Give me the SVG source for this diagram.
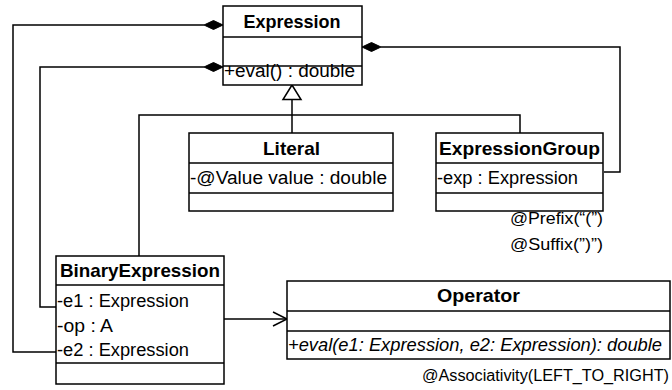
<svg xmlns="http://www.w3.org/2000/svg" width="672" height="390" viewBox="0 0 672 390">
<style>
.box{fill:#fff;stroke:#000;stroke-width:1.5}
.div{stroke:#000;stroke-width:1.5}
.ln{fill:none;stroke:#000;stroke-width:1.5}
.dia{fill:#000;stroke:#000;stroke-width:1}
text{font-family:"Liberation Sans",Arial,sans-serif;font-size:18px;fill:#000}
.t{font-weight:bold;text-anchor:middle;font-size:19px}
.r{text-anchor:end;font-size:17px}
.i{font-style:italic}
</style>
<rect width="672" height="390" fill="#fff"/>
<g id="connectors">
<polyline class="ln" points="204,25 13,25 13,352 56,352"/>
<polyline class="ln" points="204,67 40,67 40,307 56,307"/>
<polyline class="ln" points="381,47 620,47 620,172 604,172"/>
<polyline class="ln" points="292,99 292,133"/>
<polyline class="ln" points="139,256 139,115 520,115 520,133"/>
<polygon points="292,85 283,99.5 301,99.5" fill="#fff" stroke="#000" stroke-width="1.5"/>
<polygon class="dia" points="223,25 213.5,20.5 204,25 213.5,29.5"/>
<polygon class="dia" points="223,67 213.5,62.5 204,67 213.5,71.5"/>
<polygon class="dia" points="362,47 371.5,42.5 381,47 371.5,51.5"/>
<line class="ln" x1="224" y1="319" x2="287" y2="319"/>
<polyline class="ln" points="273,312 287,319 273,326"/>
</g>
<g id="Expression">
<rect class="box" x="223" y="6" width="139" height="79"/>
<line class="div" x1="223" y1="37" x2="362" y2="37"/>
<line class="div" x1="223" y1="66" x2="362" y2="66"/>
<text class="t" x="292" y="28" textLength="97" lengthAdjust="spacingAndGlyphs">Expression</text>
<text x="224" y="77" textLength="131" lengthAdjust="spacingAndGlyphs">+eval() : double</text>
</g>
<g id="Literal">
<rect class="box" x="189" y="133" width="204" height="78"/>
<line class="div" x1="189" y1="163" x2="393" y2="163"/>
<line class="div" x1="189" y1="193" x2="393" y2="193"/>
<text class="t" x="291.5" y="155" textLength="57" lengthAdjust="spacingAndGlyphs">Literal</text>
<text x="190" y="184" textLength="197" lengthAdjust="spacingAndGlyphs">-@Value value : double</text>
</g>
<g id="ExpressionGroup">
<rect class="box" x="436" y="133" width="167" height="78"/>
<line class="div" x1="436" y1="163" x2="603" y2="163"/>
<line class="div" x1="436" y1="193" x2="603" y2="193"/>
<text class="t" x="519.5" y="155" textLength="161" lengthAdjust="spacingAndGlyphs">ExpressionGroup</text>
<text x="437" y="184" textLength="141" lengthAdjust="spacingAndGlyphs">-exp : Expression</text>
<text class="r" x="603" y="224" textLength="93" lengthAdjust="spacingAndGlyphs">@Prefix(“(”)</text>
<text class="r" x="603" y="250" textLength="93" lengthAdjust="spacingAndGlyphs">@Suffix(”)”)</text>
</g>
<g id="BinaryExpression">
<rect class="box" x="56" y="256" width="168" height="128"/>
<line class="div" x1="56" y1="285" x2="224" y2="285"/>
<line class="div" x1="56" y1="363" x2="224" y2="363"/>
<text class="t" x="140" y="277" textLength="160" lengthAdjust="spacingAndGlyphs">BinaryExpression</text>
<text x="57" y="307" textLength="132" lengthAdjust="spacingAndGlyphs">-e1 : Expression</text>
<text x="57" y="332" textLength="56" lengthAdjust="spacingAndGlyphs">-op : A</text>
<text x="57" y="356" textLength="132" lengthAdjust="spacingAndGlyphs">-e2 : Expression</text>
</g>
<g id="Operator">
<rect class="box" x="287" y="281" width="383" height="78"/>
<line class="div" x1="287" y1="311" x2="670" y2="311"/>
<line class="div" x1="287" y1="331" x2="670" y2="331"/>
<text class="t" x="478.5" y="302" textLength="83" lengthAdjust="spacingAndGlyphs">Operator</text>
<text class="i" x="288" y="351" textLength="374" lengthAdjust="spacingAndGlyphs">+eval(e1: Expression, e2: Expression): double</text>
<text class="r" x="669" y="381" style="font-size:16px" textLength="247" lengthAdjust="spacingAndGlyphs">@Associativity(LEFT_TO_RIGHT)</text>
</g>
</svg>
